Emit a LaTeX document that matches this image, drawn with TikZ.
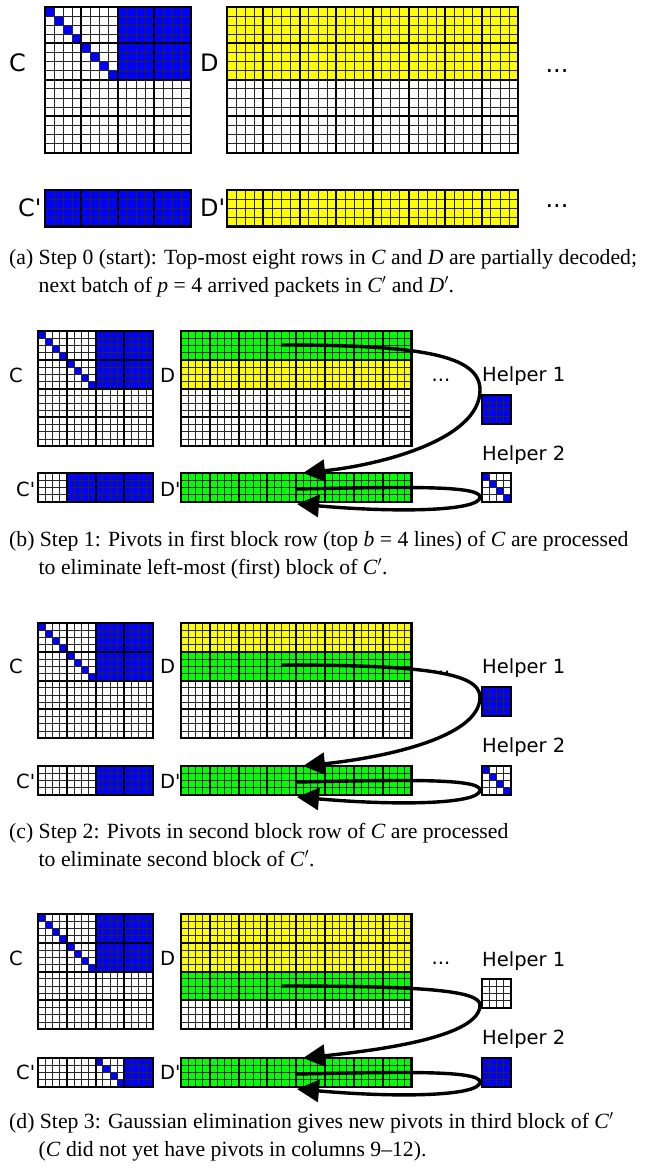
\documentclass[tikz,border=0pt]{standalone}
\usepackage{fontspec}
\setmainfont{Liberation Serif}
\newfontfamily\labfont[Ligatures=TeXOff]{DejaVu Sans}
\usetikzlibrary{arrows.meta}
\definecolor{pblue}{RGB}{0,0,255}
\definecolor{pyellow}{RGB}{255,255,0}
\definecolor{pgreen}{RGB}{0,255,0}
\tikzset{
  cellline/.style={line width=0.85pt, black!85},
  blockline/.style={line width=2.1pt, black},
  border/.style={line width=2.2pt, black},
  flowarrow/.style={line width=3.4pt, black, -{Triangle[length=22pt,width=22pt]}},
  biglab/.style={font=\labfont\fontsize{24}{26}\selectfont, inner sep=0pt, anchor=base west},
  lab/.style={font=\labfont\fontsize{19.5}{22}\selectfont, inner sep=0pt, anchor=base west},
  dotlab/.style={font=\labfont\fontsize{19.5}{22}\selectfont, inner sep=0pt, anchor=base},
  bigdot/.style={font=\labfont\fontsize{24}{26}\selectfont, inner sep=0pt, anchor=base},
  captext/.style={font=\fontsize{21.7}{26}\selectfont, inner sep=0pt, anchor=base west},
}
\newcommand\cellgrid[2]{%
  \foreach \i in {1,...,#1}{\draw[cellline] (\i,0) -- (\i,#2);}%
  \foreach \j in {1,...,#2}{\draw[cellline] (0,\j) -- (#1,\j);}%
  \pgfmathtruncatemacro\nbc{#1/4}\pgfmathtruncatemacro\nbr{#2/4}%
  \foreach \i in {1,...,\nbc}{\draw[blockline] (4*\i,0) -- (4*\i,#2);}%
  \foreach \j in {1,...,\nbr}{\draw[blockline] (0,4*\j) -- (#1,4*\j);}%
  \draw[border] (0,0) rectangle (#1,#2);}
\newcommand\mtx[6]{%
  \begin{scope}[shift={(#1,#2)}, x=#3pt, y=-#3pt]
    #6
    \cellgrid{#4}{#5}
  \end{scope}}
\newcommand\diagp[2]{\foreach \k in {1,...,#2}{\fill[pblue] ({#1+\k-1},\k-1) rectangle ({#1+\k},\k);}}
\newcommand\flows[4]{%
  \coordinate (#1s) at (282,#2);
  \coordinate (#1r) at (480,#3);
  \coordinate (#1t) at (303,#4);
  \pgfmathsetmacro\ca{#2+(#3-#2)*0.22}%
  \pgfmathsetmacro\cb{#3+(#4-#3)*0.6}%
  \pgfmathsetmacro\cc{#4-8}%
  \draw[flowarrow] (#1s) .. controls (420,#2) and (480,\ca) .. (#1r)
     .. controls (480,\cb) and (380,\cc) .. (#1t);
  \pgfmathsetmacro\ua{#4+16}\pgfmathsetmacro\ub{#4+14}\pgfmathsetmacro\uc{#4+12}%
  \pgfmathsetmacro\ud{#4+24}\pgfmathsetmacro\ue{#4+38}\pgfmathsetmacro\uf{#4+40}%
  \pgfmathsetmacro\ug{#4+31}%
  \coordinate (#1u) at (297,\ua);
  \coordinate (#1h) at (480,\ud);
  \coordinate (#1v) at (297,\ug);
  \draw[flowarrow] (#1u) .. controls (400,\ub) and (480,\uc) .. (#1h)
     .. controls (480,\ue) and (400,\uf) .. (#1v);}
\begin{document}
\begin{tikzpicture}[x=1pt,y=-1pt]
\useasboundingbox (0,0) rectangle (648,1170);
\fill[white] (0,0) rectangle (648,1170);

% ---------- panel (a)
\mtx{45}{7}{9.1}{16}{16}{\fill[pblue] (8,0) rectangle (16,8); \diagp{0}{8}}
\mtx{227}{7}{9.1}{32}{16}{\fill[pyellow] (0,0) rectangle (32,8);}
\mtx{45}{190}{9.1}{16}{4}{\fill[pblue] (0,0) rectangle (16,4);}
\mtx{227}{190}{9.1}{32}{4}{\fill[pyellow] (0,0) rectangle (32,4);}
\node[biglab] (aC) at (9,71) {C};
\node[biglab] (aD) at (200,71) {D};
\node[biglab] (aCp) at (18,216) {C'};
\node[biglab] (aDp) at (200,216) {D'};
\node[bigdot] (adots1) at (557,72) {...};
\node[bigdot] (adots2) at (557,207) {...};
\node[captext] (capa1) at (9,264) {(a) Step 0 (start): Top-most eight rows in \textit{C} and \textit{D} are partially decoded;};
\node[captext] (capa2) at (38.5,292) {next batch of \textit{p} = 4 arrived packets in \textit{C}$'$ and \textit{D}$'$.};

% ---------- panel (b)
\mtx{38}{331}{7.2}{16}{16}{\fill[pblue] (8,0) rectangle (16,8); \diagp{0}{8}}
\mtx{181}{331}{7.2}{32}{16}{\fill[pgreen] (0,0) rectangle (32,4); \fill[pyellow] (0,4) rectangle (32,8);}
\mtx{38}{473}{7.2}{16}{4}{\fill[pblue] (4,0) rectangle (16,4);}
\mtx{181}{473}{7.2}{32}{4}{\fill[pgreen] (0,0) rectangle (32,4);}
\mtx{482}{395}{7.2}{4}{4}{\fill[pblue] (0,0) rectangle (4,4);}
\mtx{482}{473}{7.2}{4}{4}{\diagp{0}{4}}
\node[lab] (bC) at (9,382) {C};
\node[lab] (bD) at (160,382) {D};
\node[lab] (bCp) at (16,496) {C'};
\node[lab] (bDp) at (160,496) {D'};
\node[lab] (bH1) at (482,381) {Helper 1};
\node[lab] (bH2) at (482,460) {Helper 2};
\node[dotlab] (bdots) at (441,381) {...};
\flows{b}{345}{390}{473}
\node[captext] (capb1) at (9,546) {(b) Step 1: Pivots in first block row (top \textit{b} = 4 lines) of \textit{C} are processed};
\node[captext] (capb2) at (38.5,574) {to eliminate left-most (first) block of \textit{C}$'$.};

% ---------- panel (c)
\mtx{38}{623}{7.2}{16}{16}{\fill[pblue] (8,0) rectangle (16,8); \diagp{0}{8}}
\mtx{181}{623}{7.2}{32}{16}{\fill[pyellow] (0,0) rectangle (32,4); \fill[pgreen] (0,4) rectangle (32,8);}
\mtx{38}{766}{7.2}{16}{4}{\fill[pblue] (8,0) rectangle (16,4);}
\mtx{181}{766}{7.2}{32}{4}{\fill[pgreen] (0,0) rectangle (32,4);}
\mtx{482}{687}{7.2}{4}{4}{\fill[pblue] (0,0) rectangle (4,4);}
\mtx{482}{766}{7.2}{4}{4}{\diagp{0}{4}}
\node[lab] (cC) at (9,673) {C};
\node[lab] (cD) at (160,673) {D};
\node[lab] (cCp) at (16,788) {C'};
\node[lab] (cDp) at (160,788) {D'};
\node[lab] (cH1) at (482,673) {Helper 1};
\node[lab] (cH2) at (482,752) {Helper 2};
\node[dotlab] (cdots) at (441,673) {...};
\flows{c}{665}{697}{766}
\node[captext] (capc1) at (9,838) {(c) Step 2: Pivots in second block row of \textit{C} are processed};
\node[captext] (capc2) at (38.5,866) {to eliminate second block of \textit{C}$'$.};

% ---------- panel (d)
\mtx{38}{914}{7.2}{16}{16}{\fill[pblue] (8,0) rectangle (16,8); \diagp{0}{8}}
\mtx{181}{914}{7.2}{32}{16}{\fill[pyellow] (0,0) rectangle (32,8); \fill[pgreen] (0,8) rectangle (32,12);}
\mtx{38}{1058}{7.2}{16}{4}{\diagp{8}{4} \fill[pblue] (12,0) rectangle (16,4);}
\mtx{181}{1058}{7.2}{32}{4}{\fill[pgreen] (0,0) rectangle (32,4);}
\mtx{482}{979}{7.2}{4}{4}{}
\mtx{482}{1058}{7.2}{4}{4}{\fill[pblue] (0,0) rectangle (4,4);}
\node[lab] (dC) at (9,965) {C};
\node[lab] (dD) at (160,965) {D};
\node[lab] (dCp) at (16,1079) {C'};
\node[lab] (dDp) at (160,1079) {D'};
\node[lab] (dH1) at (482,966) {Helper 1};
\node[lab] (dH2) at (482,1044) {Helper 2};
\node[dotlab] (ddots) at (441,964) {...};
\flows{d}{986}{1005}{1058}
\node[captext] (capd1) at (9,1128) {(d) Step 3: Gaussian elimination gives new pivots in third block of \textit{C}$'$};
\node[captext] (capd2) at (38.5,1156) {(\textit{C} did not yet have pivots in columns 9--12).};
\end{tikzpicture}
\end{document}
